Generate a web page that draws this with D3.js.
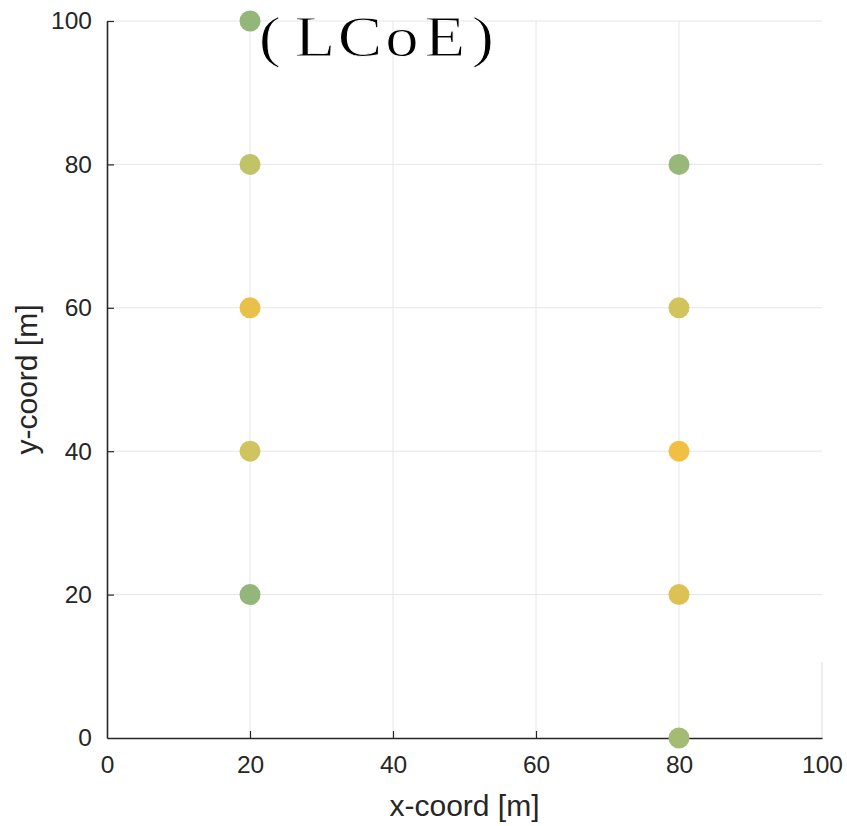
<!DOCTYPE html>
<html>
<head>
<meta charset="utf-8">
<script src="https://cdn.jsdelivr.net/npm/d3@7"></script>
<style>
  html, body { margin: 0; padding: 0; background: #fff; }
  svg { display: block; }
</style>
</head>
<body>
<svg id="chart" width="847" height="826"></svg>
<script>
// ---- data ----
const xCoords = [20, 20, 20, 20, 20, 80, 80, 80, 80, 80];
const yCoords = [100, 80, 60, 40, 20, 80, 60, 40, 20, 0];
const lcoeValues = [0.05, 0.45, 0.9, 0.6, 0.05, 0.1, 0.62, 1.0, 0.75, 0.2];
const xTicks = [0, 20, 40, 60, 80, 100];
const yTicks = [0, 20, 40, 60, 80, 100];
const titleText = "(LCoE)";
const xLabel = "x-coord [m]";
const yLabel = "y-coord [m]";

// ---- layout ----
const W = 847, H = 826;
const margin = { left: 107, right: 25, top: 21, bottom: 88 };
const svg = d3.select("#chart");

const x = d3.scaleLinear().domain([0, 100]).range([margin.left, W - margin.right]);
const y = d3.scaleLinear().domain([0, 100]).range([H - margin.bottom, margin.top]);

const color = d3.scaleLinear()
  .domain([0, 0.5, 1])
  .range(["#8db47c", "#c7c566", "#f1bf42"]);

// grid
const grid = svg.append("g");
grid.selectAll("line.gx").data(xTicks.filter(d => d > 0 && d < 100)).join("line")
  .attr("x1", d => x(d)).attr("x2", d => x(d))
  .attr("y1", y(0)).attr("y2", y(100))
  .attr("stroke", "#e6e6e6").attr("stroke-width", 1);
grid.selectAll("line.gy").data(yTicks.filter(d => d > 0)).join("line")
  .attr("x1", x(0)).attr("x2", x(100))
  .attr("y1", d => y(d)).attr("y2", d => y(d))
  .attr("stroke", "#e6e6e6").attr("stroke-width", 1);
// partial right border
grid.append("line")
  .attr("x1", x(100)).attr("x2", x(100))
  .attr("y1", y(0)).attr("y2", y(10.6))
  .attr("stroke", "#d9d9d9").attr("stroke-width", 1);

// axes
const axisColor = "#262626";
const xAxis = svg.append("g").attr("transform", `translate(0,${y(0)})`)
  .call(d3.axisBottom(x).tickValues(xTicks).tickSizeInner(-7).tickSizeOuter(0).tickPadding(18));
const yAxis = svg.append("g").attr("transform", `translate(${x(0)},0)`)
  .call(d3.axisLeft(y).tickValues(yTicks).tickSizeInner(-7).tickSizeOuter(0).tickPadding(15));
[xAxis, yAxis].forEach(a => {
  a.select(".domain").attr("stroke", axisColor).attr("stroke-width", 1.6);
  a.selectAll(".tick line").attr("stroke", axisColor).attr("stroke-width", 1.2);
  a.selectAll(".tick text")
    .attr("fill", "#262626")
    .style("font-family", "'Liberation Sans', Arial, sans-serif")
    .style("font-size", "24.5px");
});
xAxis.selectAll(".tick text").attr("dy", "0.71em");
xAxis.selectAll(".tick").filter(d => d === 100).select("line").remove();
yAxis.selectAll(".tick").filter(d => d === 0).select("line").remove();
xAxis.selectAll(".tick").filter(d => d === 0).select("line").remove();

// points
svg.append("g").selectAll("circle").data(xCoords.map((d, i) => ({ x: d, y: yCoords[i], v: lcoeValues[i] })))
  .join("circle")
  .attr("cx", d => x(d.x)).attr("cy", d => y(d.y))
  .attr("r", 10.5)
  .attr("fill", d => color(d.v));

// labels
svg.append("text")
  .attr("x", (x(0) + x(100)) / 2).attr("y", 816)
  .attr("text-anchor", "middle")
  .attr("fill", "#262626")
  .style("font-family", "'Liberation Sans', Arial, sans-serif")
  .style("font-size", "30px")
  .text(xLabel);
svg.append("text")
  .attr("transform", `translate(37,${(y(0) + y(100)) / 2}) rotate(-90)`)
  .attr("text-anchor", "middle")
  .attr("fill", "#262626")
  .style("font-family", "'Liberation Sans', Arial, sans-serif")
  .style("font-size", "30px")
  .text(yLabel);

// title: monospace-like spacing of a serif face, widened horizontally
const sx = 1.15;
const charCenters = [270, 315, 360, 402, 445, 483];
const title = svg.append("text")
  .attr("transform", `scale(${sx},1)`)
  .attr("y", 56)
  .attr("fill", "#000")
  .attr("stroke", "#fff")
  .attr("stroke-width", 0.9)
  .attr("text-anchor", "middle")
  .style("font-family", "'Liberation Serif', 'Times New Roman', serif")
  .style("font-size", "58px");
title.selectAll("tspan").data(titleText.split("")).join("tspan")
  .attr("x", (d, i) => charCenters[i] / sx)
  .text(d => d);
</script>
</body>
</html>
